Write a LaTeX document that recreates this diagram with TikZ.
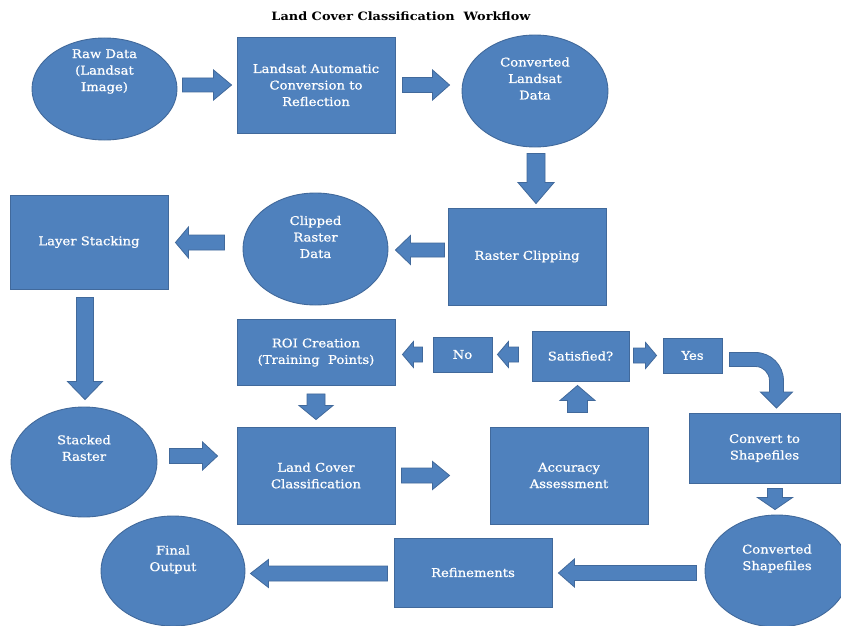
\documentclass[tikz,border=0pt]{standalone}
\usepackage{fontspec}
\setmainfont{DejaVu Serif}[FakeStretch=1.12]
\newfontfamily\labelfont{DejaVu Serif}[FakeStretch=1.1, FakeBold=0.8]
\usetikzlibrary{shapes.geometric,calc}

\definecolor{fillblue}{HTML}{4F81BD}
\definecolor{edgeblue}{HTML}{41699B}

% Block arrow from tail #1 to tip #2: shaft half width #3, head half width #4, head length #5
\newcommand\blockarrow[5]{%
  \coordinate (ba-t) at #1;
  \coordinate (ba-p) at #2;
  \coordinate (ba-n) at ($(ba-p)!#5!(ba-t)$);
  \path[arrowbody]
    ($(ba-t)!#3!90:(ba-p)$) -- ($(ba-n)!#3!-90:(ba-t)$) -- ($(ba-n)!#4!-90:(ba-t)$)
    -- (ba-p) -- ($(ba-n)!#4!90:(ba-t)$) -- ($(ba-n)!#3!90:(ba-t)$)
    -- ($(ba-t)!#3!-90:(ba-p)$) -- cycle;}

\begin{document}
\begin{tikzpicture}[x=1pt,y=-1pt,
  shapebase/.style={draw=edgeblue, fill=fillblue, line width=0.9pt, inner sep=0pt},
  boxshape/.style={shapebase, rectangle, text=white, align=center,
    font=\labelfont\fontsize{12}{16.5}\selectfont},
  ovalshape/.style={shapebase, ellipse},
  ovaltext/.style={text=white, align=center, inner sep=0pt,
    font=\labelfont\fontsize{12}{16.5}\selectfont},
  arrowbody/.style={draw=edgeblue, fill=fillblue, line width=0.8pt, line join=miter},
  titletext/.style={text=black, inner sep=0pt, font=\bfseries\fontsize{11.5}{13}\selectfont}
]
\fill[white] (0,0) rectangle (841,626);
\path[use as bounding box, clip] (0,0) rectangle (841,626);

\node[titletext] (title) at (401,16) {Land Cover Classification\ \ Workflow};

% ---- shapes ----
\node[ovalshape, minimum width=145pt, minimum height=102pt] (raw) at (104.5,89) {};
\node[boxshape, minimum width=158pt, minimum height=96pt] (auto) at (316,85)
  {Landsat Automatic\\Conversion to\\Reflection};
\node[ovalshape, minimum width=146pt, minimum height=112pt] (conv1) at (535,91) {};

\node[boxshape, minimum width=158pt, minimum height=97pt] (clip) at (527,256.5) {Raster Clipping};
\node[ovalshape, minimum width=145pt, minimum height=112pt] (clipped) at (315.5,249) {};
\node[boxshape, minimum width=158pt, minimum height=94pt] (layer) at (89,242) {Layer Stacking};

\node[boxshape, minimum width=158pt, minimum height=66pt] (roi) at (316,352.5)
  {ROI Creation\\(Training\ \ Points)};
\node[boxshape, minimum width=59pt, minimum height=35pt] (no) at (462.5,354.5) {No};
\node[boxshape, minimum width=97pt, minimum height=50pt] (sat) at (580.5,356) {Satisfied?};
\node[boxshape, minimum width=59pt, minimum height=35pt] (yes) at (692.5,355.5) {Yes};

\node[ovalshape, minimum width=146pt, minimum height=110pt] (stacked) at (84,462) {};
\node[boxshape, minimum width=158pt, minimum height=97pt] (lcc) at (316,475.5)
  {Land Cover\\Classification};
\node[boxshape, minimum width=158pt, minimum height=97pt] (acc) at (569,475.5)
  {Accuracy\\Assessment};
\node[boxshape, minimum width=151pt, minimum height=70pt] (shp) at (764.5,448)
  {Convert to\\Shapefiles};

\node[ovalshape, minimum width=144pt, minimum height=110pt] (final) at (173,571) {};
\node[boxshape, minimum width=158pt, minimum height=69pt] (ref) at (473,572.5) {Refinements};
\node[ovalshape, minimum width=144pt, minimum height=112pt] (convshp) at (777,571) {};

% ---- texts of the ovals ----
\node[ovaltext] (rawtext) at ($(raw.center)+(0,-17.5)$) {Raw Data\\(Landsat\\Image)};
\node[ovaltext] (conv1text) at ($(conv1.center)+(0,-12.5)$) {Converted\\Landsat\\Data};
\node[ovaltext] (clippedtext) at ($(clipped.center)+(0,-12)$) {Clipped\\Raster\\Data};
\node[ovaltext] (stackedtext) at ($(stacked.center)+(0,-14)$) {Stacked\\Raster};
\node[ovaltext] (finaltext) at ($(final.center)+(0,-11.5)$) {Final\\Output};
\node[ovaltext] (convshptext) at ($(convshp.center)+(0,-12.5)$) {Converted\\Shapefiles};

% ---- block arrows ----
\blockarrow{($(raw.east |- auto.west)+(5,0)$)}{($(auto.west)+(-5,0)$)}{7pt}{15pt}{18pt}
\blockarrow{($(auto.east)+(7,0)$)}{($(conv1.west |- auto.east)+(-12,0)$)}{7.5pt}{15pt}{17pt}
\blockarrow{($(conv1.south)+(1,6)$)}{($(clip.north -| conv1.south)+(1,-4)$)}{9pt}{18pt}{21pt}
\blockarrow{($(clip.west |- clipped.east)+(-3,1)$)}{($(clipped.east)+(7,1)$)}{7pt}{14.5pt}{15pt}
\blockarrow{($(clipped.west |- layer.east)+(-18,0.5)$)}{($(layer.east)+(7,0.5)$)}{7.5pt}{15.5pt}{13pt}
\blockarrow{($(stacked.north |- layer.south)+(1,8)$)}{($(stacked.north)+(1,-7)$)}{8.5pt}{17.5pt}{18pt}
\blockarrow{($(stacked.east)+(12,-6)$)}{($(lcc.west |- stacked.east)+(-19,-6)$)}{7.5pt}{14pt}{15pt}
\blockarrow{($(lcc.east)+(6,0)$)}{($(acc.west)+(-40,0)$)}{7.5pt}{14pt}{17pt}
\blockarrow{($(roi.south)+(0,8)$)}{($(lcc.north)+(0,-7)$)}{9pt}{17pt}{14pt}
\blockarrow{($(sat.south |- acc.north)+(-3,-14)$)}{($(sat.south)+(-3,4)$)}{10pt}{17.5pt}{15pt}
\blockarrow{($(sat.west |- no.east)+(-13,0)$)}{($(no.east)+(5,0)$)}{7.5pt}{13pt}{11pt}
\blockarrow{($(no.west)+(-10,0)$)}{($(roi.east |- no.west)+(7,0)$)}{7.5pt}{13pt}{11pt}
\blockarrow{($(sat.east |- yes.west)+(4,0)$)}{($(yes.west)+(-6,0)$)}{7.5pt}{13pt}{11pt}
\blockarrow{($(convshp.north |- shp.south)+(-2,5)$)}{($(convshp.north)+(-2,-5)$)}{7.5pt}{17.5pt}{12pt}
\blockarrow{($(convshp.west)+(-8,2)$)}{($(ref.east |- convshp.west)+(6,2)$)}{7.5pt}{14pt}{16pt}
\blockarrow{($(ref.west)+(-6,1)$)}{($(final.east |- ref.west)+(5,1)$)}{7.5pt}{14pt}{18pt}

% ---- bent arrow from Yes down to the shapefile conversion ----
\coordinate (bend) at ($(yes.east)+(7,-3)$);
\path[arrowbody] (bend) -- ++(26,0) arc[start angle=-90, end angle=0, radius=28]
  -- ++(0,11.5) -- ++(9,0) -- ++(-16,16) -- ++(-16,-16) -- ++(9,0) -- ++(0,-11.5)
  arc[start angle=0, end angle=-90, radius=14] -- ++(-26,0) -- cycle;
\end{tikzpicture}
\end{document}
